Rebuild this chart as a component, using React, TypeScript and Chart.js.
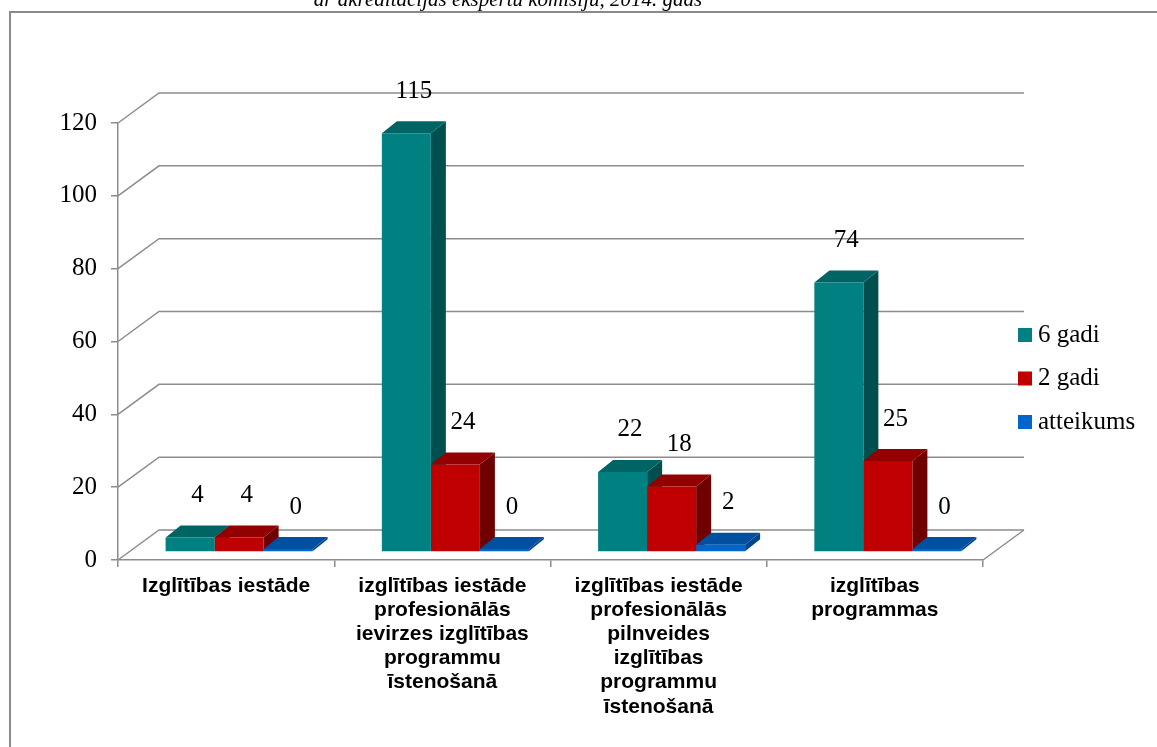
import React, { useEffect, useRef } from "react";
import { Chart, registerables } from "chart.js";

Chart.register(...registerables);

// ---- data ----
const categories: string[][] = [
  ["Izglītības iestāde"],
  ["izglītības iestāde", "profesionālās", "ievirzes izglītības", "programmu", "īstenošanā"],
  ["izglītības iestāde", "profesionālās", "pilnveides", "izglītības", "programmu", "īstenošanā"],
  ["izglītības", "programmas"],
];
const seriesNames = ["6 gadi", "2 gadi", "atteikums"];
const sixYears = [4, 115, 22, 74];
const twoYears = [4, 24, 18, 25];
const refusals = [0, 0, 2, 0];
const yMin = 0;
const yMax = 120;
const yStep = 20;
const titleText = "ar akreditācijas ekspertu komisiju, 2014. gads";

// ---- styles ----
const frontColors = ["#008080", "#C00000", "#0066CC"];
const topColors = ["#006464", "#920000", "#0050A2"];
const sideColors = ["#004F4F", "#700000", "#00458C"];
const GRID = "#8C8C8C";
const WALL = { dx: 41, dy: -30 };
const PLANE = { dx: 13, dy: -8 };
const DEPTH = { dx: 15, dy: -12 };
const SERIF = '"Liberation Serif", "Times New Roman", serif';
const SANS = '"Liberation Sans", Arial, sans-serif';

function poly(ctx: CanvasRenderingContext2D, pts: number[][]) {
  ctx.beginPath();
  ctx.moveTo(pts[0][0], pts[0][1]);
  for (let i = 1; i < pts.length; i++) ctx.lineTo(pts[i][0], pts[i][1]);
  ctx.closePath();
  ctx.fill();
}

const threeD = {
  id: "threeD",
  beforeDatasetsDraw(chart: any) {
    const { ctx, chartArea: a, scales } = chart;
    const ys = scales.y;
    ctx.save();
    ctx.strokeStyle = GRID;
    ctx.lineWidth = 1.5;
    for (let v = yMin; v <= yMax; v += yStep) {
      const py = ys.getPixelForValue(v);
      ctx.beginPath();
      ctx.moveTo(a.left, py);
      ctx.lineTo(a.left + WALL.dx, py + WALL.dy);
      ctx.lineTo(a.right + WALL.dx, py + WALL.dy);
      ctx.stroke();
    }
    ctx.beginPath();
    ctx.moveTo(a.right, a.bottom);
    ctx.lineTo(a.right + WALL.dx, a.bottom + WALL.dy);
    ctx.stroke();

    ctx.translate(PLANE.dx, PLANE.dy);
    const n = chart.data.labels.length;
    for (let i = 0; i < n; i++) {
      chart.data.datasets.forEach((_ds: any, di: number) => {
        const el = chart.getDatasetMeta(di).data[i];
        const { x, y, base, width } = el.getProps(["x", "y", "base", "width"], true);
        const l = x - width / 2;
        const r = x + width / 2;
        const top = Math.min(y, base);
        const bot = Math.max(y, base);
        ctx.fillStyle = sideColors[di];
        poly(ctx, [
          [r, top],
          [r + DEPTH.dx, top + DEPTH.dy],
          [r + DEPTH.dx, bot + DEPTH.dy],
          [r, bot],
        ]);
        ctx.fillStyle = topColors[di];
        poly(ctx, [
          [l, top],
          [l + DEPTH.dx, top + DEPTH.dy],
          [r + DEPTH.dx, top + DEPTH.dy],
          [r, top],
        ]);
      });
    }
  },
  afterDatasetsDraw(chart: any) {
    const { ctx } = chart;
    ctx.restore();
    ctx.save();
    ctx.font = `25px ${SERIF}`;
    ctx.fillStyle = "#000";
    ctx.textAlign = "center";
    ctx.textBaseline = "middle";
    chart.data.datasets.forEach((ds: any, di: number) => {
      chart.getDatasetMeta(di).data.forEach((el: any, i: number) => {
        const { x, y, base } = el.getProps(["x", "y", "base"], true);
        const top = Math.min(y, base);
        ctx.fillText(
          String(ds.data[i]),
          x + PLANE.dx + DEPTH.dx / 2,
          top + PLANE.dy + DEPTH.dy - 30
        );
      });
    });
    ctx.restore();
  },
  afterDraw(chart: any) {
    const { ctx } = chart;
    ctx.save();
    // frame
    ctx.strokeStyle = "#8A8A8A";
    ctx.lineWidth = 2;
    ctx.beginPath();
    ctx.moveTo(10, 747);
    ctx.lineTo(10, 12);
    ctx.lineTo(1157, 12);
    ctx.stroke();
    // caption (cut off at top)
    ctx.fillStyle = "#000";
    ctx.font = `italic 21px ${SERIF}`;
    ctx.textAlign = "center";
    ctx.textBaseline = "alphabetic";
    ctx.fillText(titleText, 508, 6);
    // legend
    ctx.font = `25px ${SERIF}`;
    ctx.textAlign = "left";
    ctx.textBaseline = "middle";
    chart.data.datasets.forEach((ds: any, i: number) => {
      const cy = 335 + i * 43.5;
      ctx.fillStyle = ds.backgroundColor;
      ctx.fillRect(1018, cy - 7, 14, 14);
      ctx.fillStyle = "#000";
      ctx.fillText(ds.label, 1038, cy);
    });
    ctx.restore();
  },
};

export default function App() {
  const ref = useRef<HTMLCanvasElement | null>(null);
  useEffect(() => {
    if (!ref.current) return;
    const values = [sixYears, twoYears, refusals];
    const chart = new Chart(ref.current, {
      type: "bar",
      data: {
        labels: categories,
        datasets: values.map((d, i) => ({
          label: seriesNames[i],
          data: d,
          backgroundColor: frontColors[i],
          borderWidth: 0,
          minBarLength: 3,
          clip: false as any,
        })),
      },
      options: {
        responsive: false,
        animation: false,
        devicePixelRatio: 1,
        layout: { padding: { left: 10, top: 123, right: 174, bottom: 0 } },
        datasets: { bar: { categoryPercentage: 0.68, barPercentage: 1 } },
        plugins: {
          legend: { display: false },
          tooltip: { enabled: false },
          title: { display: false },
        },
        scales: {
          x: {
            type: "category",
            offset: true,
            grid: {
              offset: true,
              drawOnChartArea: false,
              drawTicks: true,
              tickLength: 7,
              color: GRID,
              lineWidth: 1.5,
            },
            border: { display: true, color: GRID, width: 1.5 },
            ticks: {
              color: "#000",
              font: { family: SANS, size: 21, weight: "bold", lineHeight: 1.15 },
              maxRotation: 0,
              minRotation: 0,
              autoSkip: false,
              padding: 7,
            },
            afterFit: (s: any) => {
              s.height = 187;
            },
          },
          y: {
            min: yMin,
            max: yMax,
            grid: {
              drawOnChartArea: false,
              drawTicks: true,
              tickLength: 7,
              color: GRID,
              lineWidth: 1.5,
            },
            border: { display: true, color: GRID, width: 1.5 },
            ticks: {
              stepSize: yStep,
              color: "#000",
              font: { family: SERIF, size: 25 },
              padding: 14,
            },
            afterFit: (s: any) => {
              s.width = 108;
            },
          },
        },
      } as any,
      plugins: [threeD],
    });
    return () => chart.destroy();
  }, []);
  return (
    <div style={{ position: "absolute", left: 0, top: 0, width: 1157, height: 747, background: "#fff" }}>
      <canvas ref={ref} width={1157} height={747} style={{ display: "block" }} />
    </div>
  );
}
